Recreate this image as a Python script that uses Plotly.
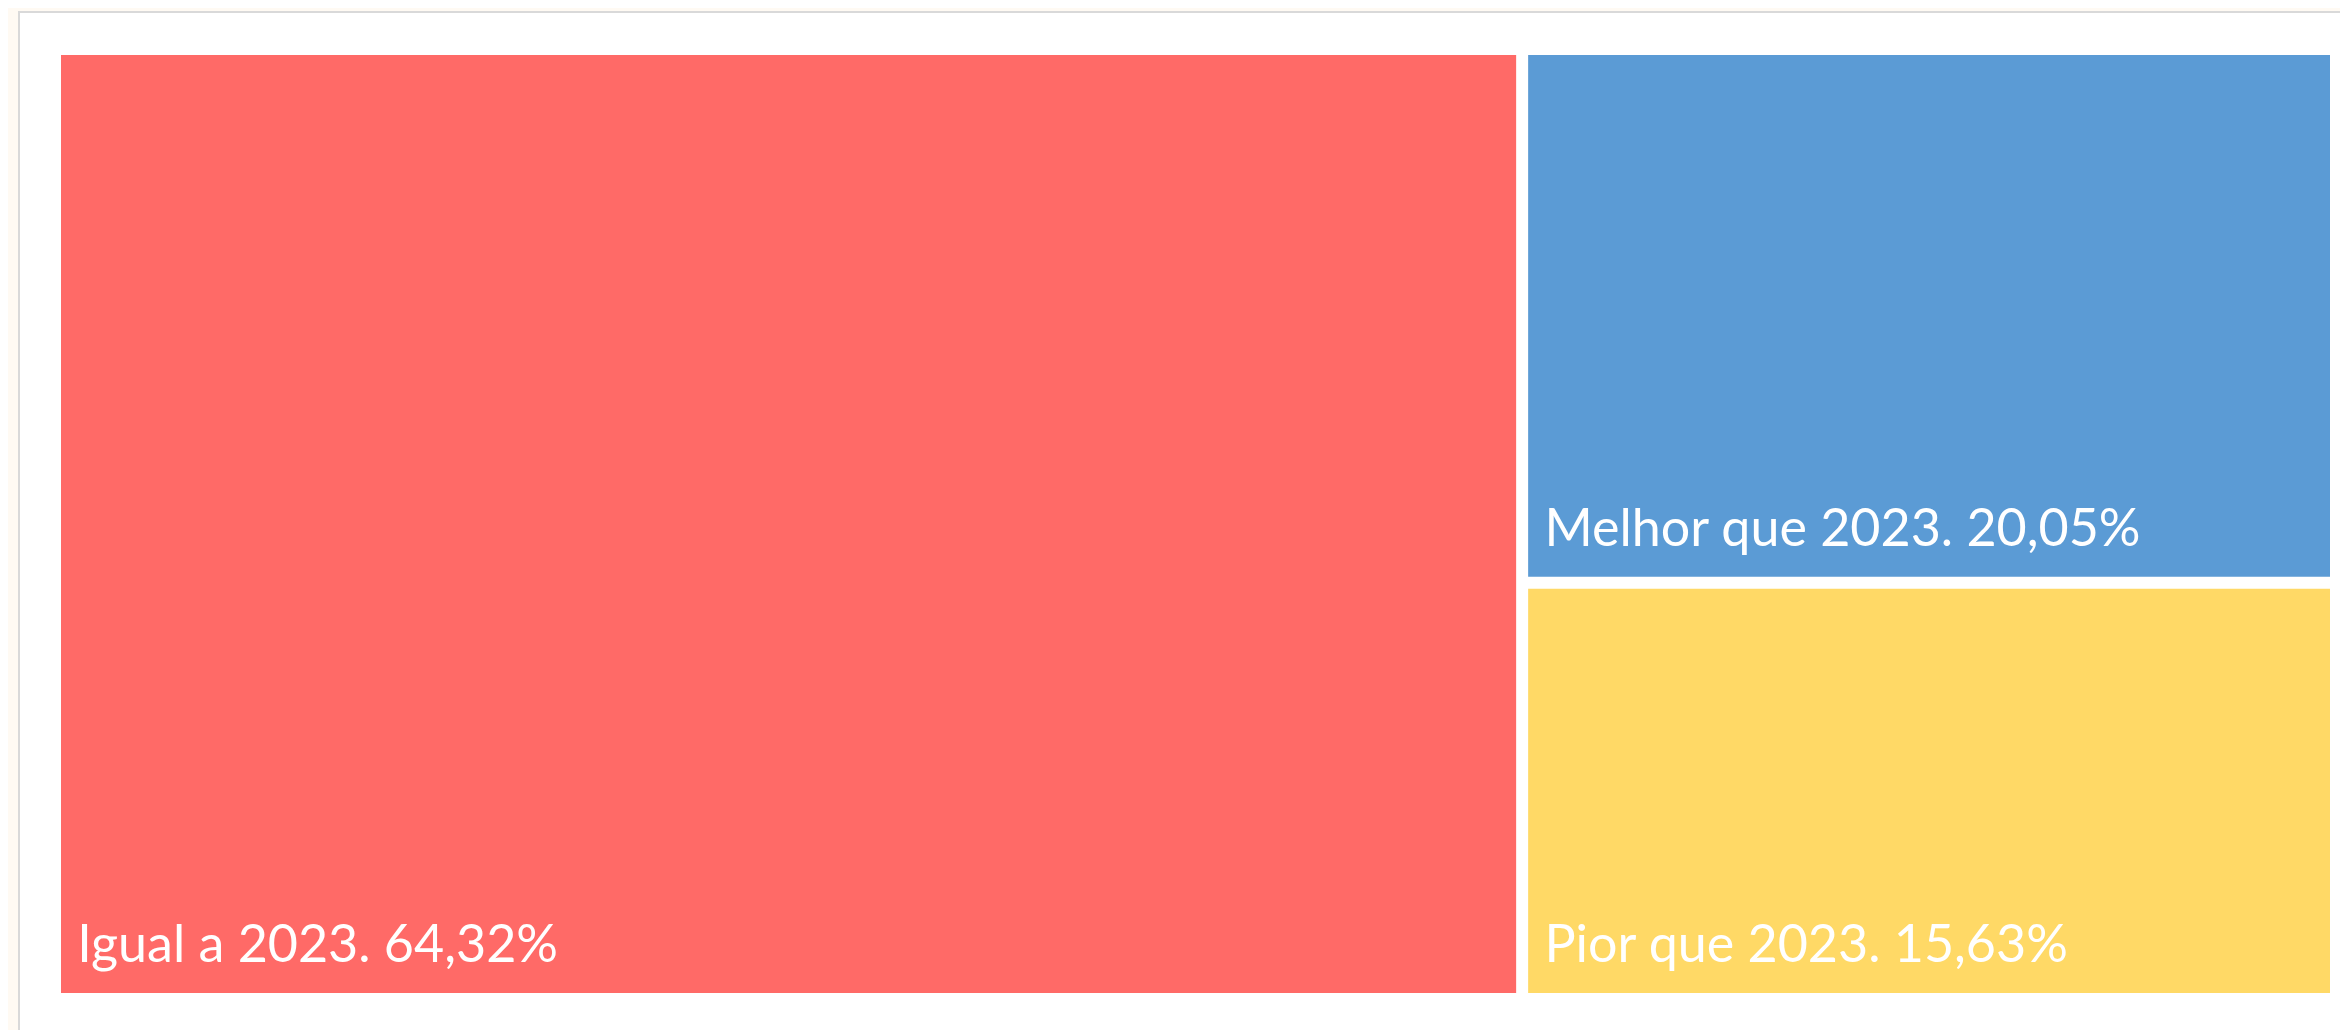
import plotly.graph_objects as go

labels = ["Igual a 2023", "Melhor que 2023", "Pior que 2023"]
values = [64.32, 20.05, 15.63]
colors = ["#FF6A67", "#5B9BD5", "#FFD966"]

NB = "\u00a0"
texts = [NB + f"{l}. " + f"{v:.2f}".replace(".", ",") + "%"
         + f"<span style='font-size:130px'>{NB}</span>"
         for l, v in zip(labels, values)]

# body of the page has an 8px default margin: compensate
OFF = 8
W, H = 2348 - OFF, 1030 - OFF
ml, mt = 61 - OFF, 55 - OFF
mr = W - (2330 - OFF)
mb = H - (993 - OFF)
pw, ph = W - ml - mr, H - mt - mb

fig = go.Figure(go.Treemap(
    labels=labels,
    parents=["", "", ""],
    values=values,
    text=texts,
    texttemplate="%{text}",
    textposition="bottom left",
    textfont=dict(family="Lato, Carlito, Calibri, sans-serif", size=52, color="white"),
    marker=dict(colors=colors, line=dict(width=0), pad=dict(t=0, l=0, r=0, b=0)),
    tiling=dict(pad=12, packing="squarify"),
    pathbar=dict(visible=False),
    sort=True,
    hoverinfo="skip",
))

fig.update_layout(
    width=W, height=H,
    margin=dict(l=ml, r=mr, t=mt, b=mb),
    paper_bgcolor="#FFFAF3",
    shapes=[dict(
        type="rect", xref="paper", yref="paper", layer="below",
        x0=(19 - OFF - ml) / pw, x1=1 + (mr + 20) / pw,
        y0=-(mb + 20) / ph, y1=1 + (mt - (12 - OFF)) / ph,
        fillcolor="white", line=dict(color="#D9D9D9", width=2),
    )],
)

fig.write_html("out.html")
